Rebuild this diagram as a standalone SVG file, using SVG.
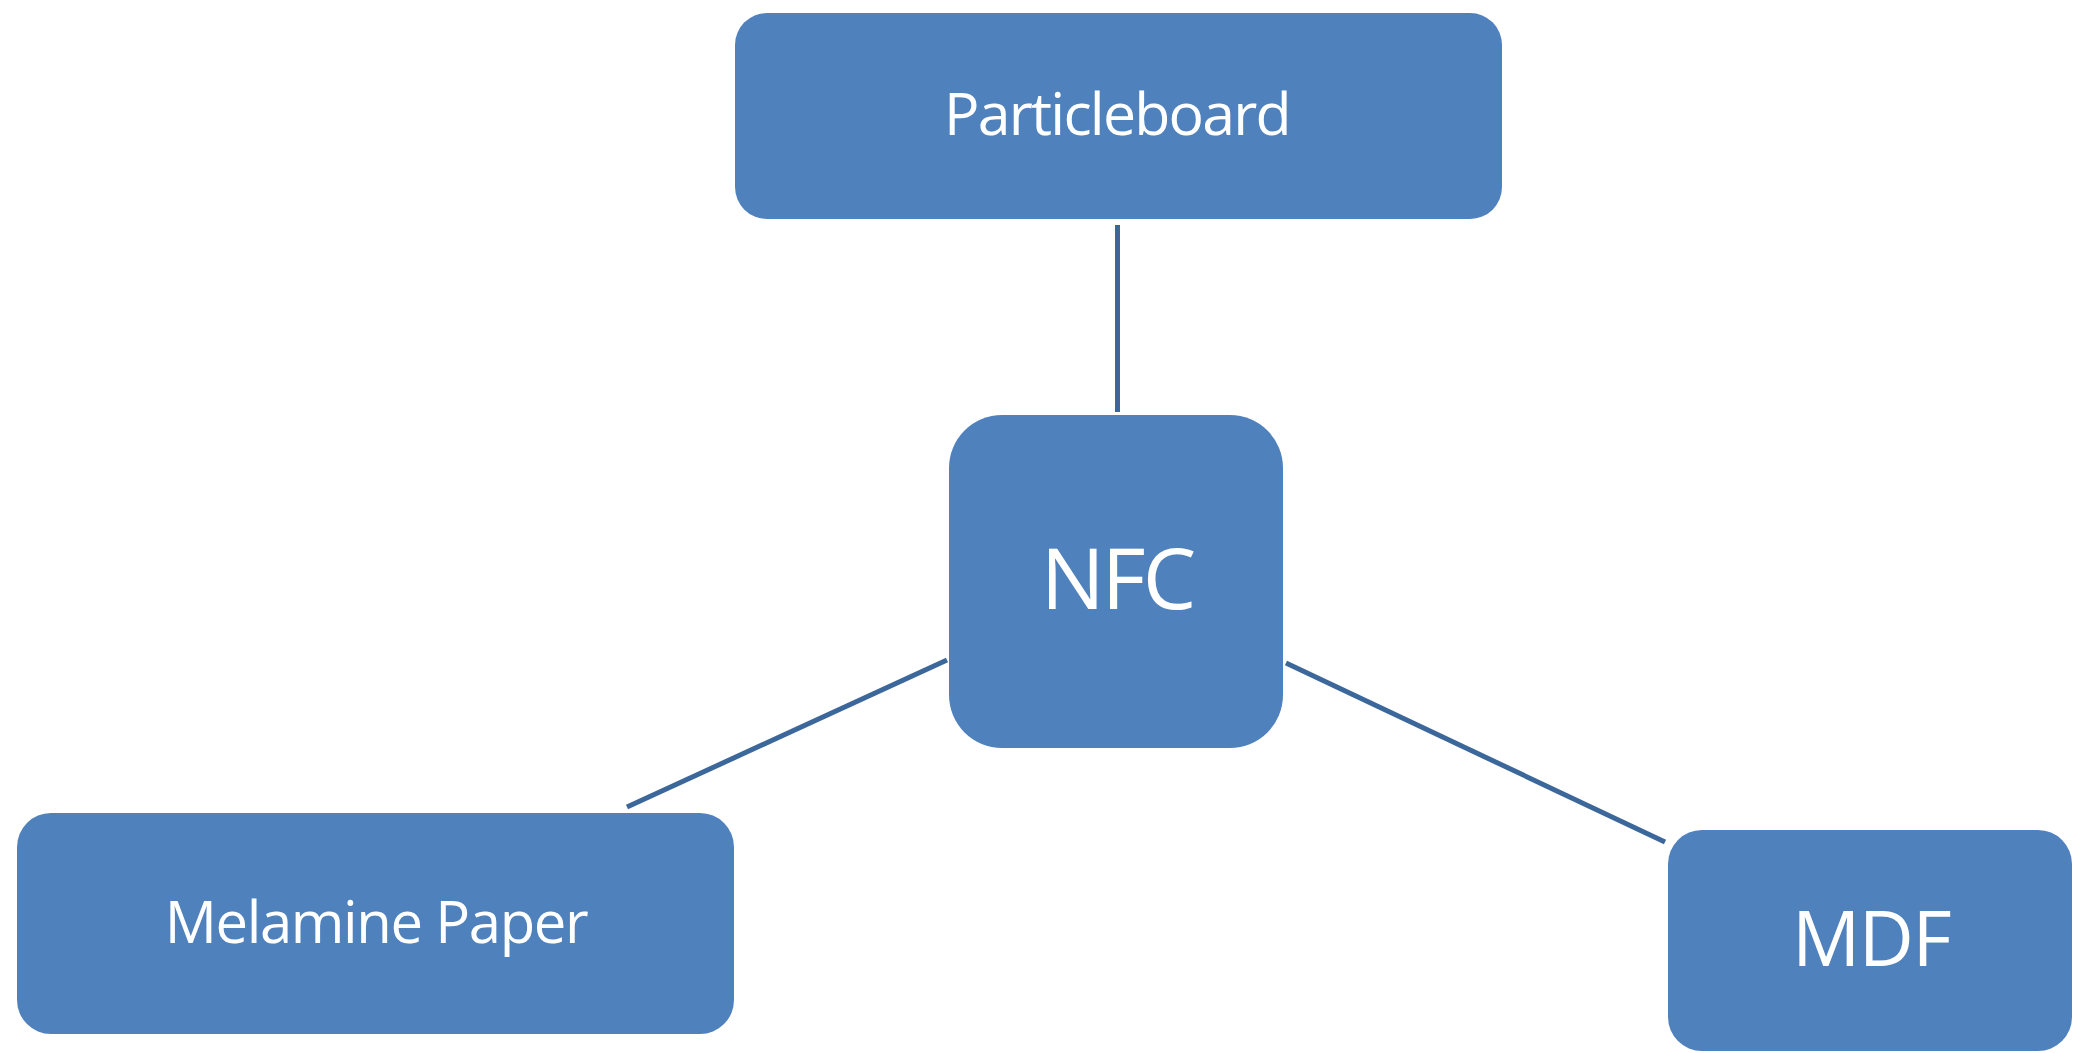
<svg xmlns="http://www.w3.org/2000/svg" width="2073" height="1053" viewBox="0 0 2073 1053">
  <style>
    .box { fill: #4F81BD; }
    .label { fill: #FFFFFF; font-family: "Open Sans", "Noto Sans", "Liberation Sans", sans-serif; text-anchor: middle; }
    .link { stroke: #3C679A; stroke-width: 5; fill: none; stroke-linecap: butt; }
  </style>
  <rect width="2073" height="1053" fill="#FFFFFF"/>

  <g id="connectors">
    <line class="link" x1="1117.5" y1="225" x2="1117.5" y2="412"/>
    <line class="link" x1="947" y1="660" x2="627" y2="807"/>
    <line class="link" x1="1286" y1="663" x2="1665" y2="842"/>
  </g>

  <g id="node-particleboard">
    <rect class="box" x="735" y="13" width="767" height="206" rx="32" ry="32"/>
    <text class="label" x="1117" y="135" font-size="59" letter-spacing="-1.8">Particleboard</text>
  </g>

  <g id="node-nfc">
    <rect class="box" x="949" y="415" width="334" height="333" rx="53" ry="53"/>
    <text class="label" x="1117" y="609" font-size="85" letter-spacing="-3">NFC</text>
  </g>

  <g id="node-melamine">
    <rect class="box" x="17" y="813" width="717" height="221" rx="34" ry="34"/>
    <text class="label" x="376" y="943" font-size="58" letter-spacing="-1.4">Melamine Paper</text>
  </g>

  <g id="node-mdf">
    <rect class="box" x="1668" y="830" width="404" height="221" rx="34" ry="34"/>
    <text class="label" x="1871" y="966" font-size="76" letter-spacing="-1.5">MDF</text>
  </g>
</svg>
